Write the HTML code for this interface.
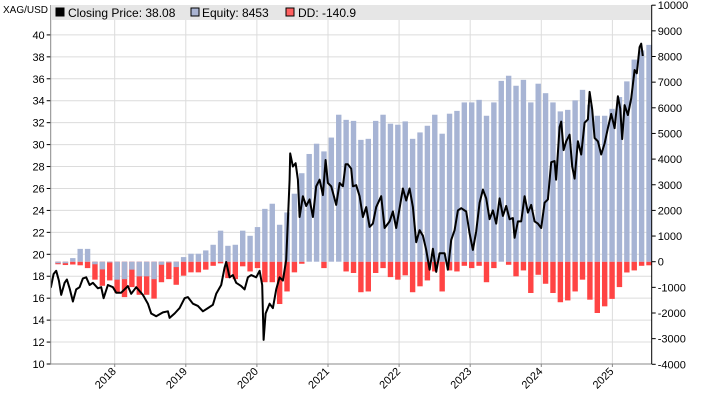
<!DOCTYPE html>
<html><head><meta charset="utf-8"><style>
html,body{margin:0;padding:0;background:#fff;}
svg{display:block;font-family:"Liberation Sans",Arial,sans-serif;}
</style></head><body>
<svg id="chart" width="701" height="405" viewBox="0 0 701 405">
<text x="3" y="13" font-size="10" fill="#000">XAG/USD</text>
<g id="grid"></g>
<g id="bars" clip-path="url(#clip)"></g>
<g id="line" clip-path="url(#clip)"></g>
<g id="axes"></g>
<g>
<rect x="51" y="5" width="600" height="15" fill="#e6e6e6"/>
<rect x="56" y="8" width="8" height="8" fill="#000" stroke="#000"/>
<text x="68" y="17" font-size="12">Closing Price: 38.08</text>
<rect x="191" y="8" width="8" height="8" fill="#aab4d2" stroke="#000"/>
<text x="202" y="17" font-size="12">Equity: 8453</text>
<rect x="286" y="8" width="8" height="8" fill="#ff6060" stroke="#000"/>
<text x="298" y="17" font-size="12">DD: -140.9</text>
</g>
<defs><clipPath id="clip"><rect x="51" y="5" width="601" height="359"/></clipPath></defs>
</svg>
<script>
const equity=[-60,-60,140,500,500,-100,-300,-30,-700,-680,-310,-570,-570,-680,-120,-30,-210,180,310,310,440,660,1210,620,660,1210,1010,1350,2060,2260,1440,1920,2650,3450,4200,4600,4300,4840,
5730,5530,5490,4750,4790,5490,5730,5380,5340,5470,4790,5040,5300,5730,4990,5770,5880,6210,6210,6310,5690,6210,7050,7250,6860,7090,6210,6940,6570,6210,5860,5920,6290,6700,6120,5690,5690,5960,6420,7030,7880,8240,8453];
const drawdown=[-100,-130,-110,-140,-250,-700,-940,-730,-1220,-1380,-990,-1290,-1290,-1440,-800,-680,-900,-545,-415,-415,-310,-160,-65,-640,-680,-180,-380,-250,-800,-800,-1650,-1160,-415,-80,0,0,-250,0,
0,-380,-440,-1190,-1160,-440,-250,-600,-700,-530,-1190,-960,-730,-380,-1160,-340,-380,-160,-250,-160,-800,-250,0,-120,-570,-340,-1220,-510,-860,-1220,-1580,-1510,-1160,-700,-1480,-2000,-1740,-1450,-990,-420,-340,-160,-141];
const barStartYear=2017.203;
const barPeriodYears=0.1039;
const priceDates=[2017.014,2017.06,2017.103,2017.141,2017.177,2017.215,2017.248,2017.295,2017.328,2017.366,2017.412,2017.459,2017.506,2017.553,2017.599,2017.647,2017.693,2017.764,2017.81,2017.844,2017.904,2017.975,2018.021,2018.091,2018.186,2018.232,2018.302,2018.397,2018.467,2018.513,2018.584,2018.678,2018.748,2018.772,2018.842,2018.913,2018.983,2019.03,2019.1,2019.17,2019.241,2019.311,2019.381,2019.428,2019.498,2019.546,2019.568,2019.616,2019.662,2019.709,2019.779,2019.827,2019.873,2019.92,2019.99,2020.038,2020.075,2020.094,2020.122,2020.179,2020.225,2020.271,2020.319,2020.366,2020.412,2020.436,2020.46,2020.468,2020.506,2020.544,2020.577,2020.601,2020.647,2020.693,2020.741,2020.788,2020.834,2020.882,2020.928,2020.966,2020.999,2021.045,2021.115,2021.163,2021.21,2021.248,2021.28,2021.327,2021.35,2021.397,2021.444,2021.491,2021.537,2021.585,2021.631,2021.678,2021.748,2021.796,2021.866,2021.913,2021.959,2022.007,2022.053,2022.1,2022.148,2022.194,2022.241,2022.288,2022.335,2022.381,2022.429,2022.475,2022.522,2022.57,2022.64,2022.686,2022.733,2022.781,2022.827,2022.874,2022.944,2022.992,2023.038,2023.084,2023.132,2023.179,2023.225,2023.273,2023.319,2023.366,2023.414,2023.46,2023.506,2023.554,2023.601,2023.624,2023.671,2023.717,2023.765,2023.811,2023.858,2023.906,2023.952,2023.999,2024.046,2024.093,2024.139,2024.187,2024.209,2024.257,2024.28,2024.314,2024.35,2024.398,2024.435,2024.468,2024.515,2024.561,2024.609,2024.655,2024.679,2024.716,2024.75,2024.796,2024.842,2024.89,2024.937,2024.983,2025.031,2025.077,2025.11,2025.138,2025.172,2025.218,2025.265,2025.312,2025.344,2025.383,2025.405,2025.428];
const priceValues=[17.96,18.4,17.0,18.2,18.5,17.6,16.3,17.4,17.7,16.9,15.7,16.8,17.0,17.8,17.9,17.2,17.4,16.9,17.0,16.0,17.2,17.0,16.5,16.5,17.1,16.4,17.0,16.3,15.5,14.6,14.35,14.7,14.8,14.2,14.6,15.1,16.0,16.1,15.5,15.3,14.8,15.1,15.4,16.4,17.2,18.8,19.3,17.9,18.1,17.4,17.1,16.8,17.9,18.1,17.9,18.5,17.2,12.2,14.6,15.5,15.1,16.8,17.9,17.6,19.5,23.1,26.8,29.2,28.0,28.3,26.8,23.4,25.3,24.4,25.0,23.4,26.2,26.8,25.4,28.6,26.5,26.2,24.5,26.5,26.2,28.2,28.2,27.8,26.2,26.3,25.3,23.4,24.3,22.5,22.8,24.3,25.3,22.4,23.0,23.9,22.4,24.2,26.0,24.9,26.0,24.3,21.1,22.2,21.7,20.4,18.6,20.5,18.4,20.1,20.1,18.6,21.3,22.2,24.0,24.2,23.9,21.9,20.4,22.1,24.7,25.9,25.1,23.2,24.0,22.8,25.1,23.5,24.4,23.2,23.3,21.5,23.0,23.0,25.3,23.8,24.5,23.0,22.8,22.4,24.7,25.0,28.4,28.5,26.8,31.6,32.1,29.5,30.3,30.9,28.0,26.9,30.3,29.1,32.0,32.3,34.8,33.2,30.6,30.3,29.1,30.1,31.5,32.8,31.5,34.4,33.3,30.5,33.6,32.7,34.2,36.8,36.5,38.9,39.2,38.08];
const leftTicks=[10,12,14,16,18,20,22,24,26,28,30,32,34,36,38,40];
const rightTicks=[-4000,-3000,-2000,-1000,0,1000,2000,3000,4000,5000,6000,7000,8000,9000,10000];
const yearTicks=[2018,2019,2020,2021,2022,2023,2024,2025];

const NS='http://www.w3.org/2000/svg';
const L=50.7,R=651.7,B=364;
function xOf(t){return L+(t-2017.1)*71.1;}
function yP(v){return B-(v-10)*10.97;}
function yE(v){return 261.7-v*0.02565;}
function mk(tag,attrs,parent){const e=document.createElementNS(NS,tag);for(const k in attrs)e.setAttribute(k,attrs[k]);parent.appendChild(e);return e;}
const grid=document.getElementById('grid'),bars=document.getElementById('bars'),line=document.getElementById('line'),axes=document.getElementById('axes');

leftTicks.forEach(v=>{
  const y=yP(v);
  const g=mk('line',{x1:L,x2:R,y1:y,y2:y,stroke:'#dcdcdc','stroke-width':1},grid);
  
  
  const t=mk('line',{x1:L-4,x2:L,y1:y,y2:y,stroke:'#000'},axes);
  
  
  const tx=mk('text',{x:L-6,y:y+4,'font-size':11,'text-anchor':'end'},axes);
  tx.textContent=v;
  
  
});
yearTicks.forEach(yr=>{
  const x=xOf(yr);
  const g=mk('line',{x1:x,x2:x,y1:5,y2:B,stroke:'#dcdcdc','stroke-width':1},grid);
  
  
  const t=mk('line',{x1:x,x2:x,y1:B,y2:B+3,stroke:'#888'},axes);
  
  
  const tx=mk('text',{x:x+2,y:B+8,'font-size':11,'text-anchor':'end',transform:'rotate(-45 '+(x+2)+' '+(B+8)+')'},axes);
  tx.textContent=yr;
  
  
});
rightTicks.forEach(v=>{
  const y=yE(v);
  const t=mk('line',{x1:R,x2:R+4,y1:y,y2:y,stroke:'#000'},axes);
  
  
  const tx=mk('text',{x:R+6,y:y+4,'font-size':11},axes);
  tx.textContent=v;
  
  
});
drawdown.forEach((v,i)=>{
  const x=xOf(barStartYear+i*barPeriodYears);
  const y0=yE(0),y1=yE(v);
  const r=mk('rect',{x:x-2.7,y:Math.min(y0,y1),width:5.4,height:Math.abs(y1-y0),fill:'#ff4444'},bars);
  
  
});
equity.forEach((v,i)=>{
  const x=xOf(barStartYear+i*barPeriodYears);
  const y0=yE(0),y1=yE(v);
  const r=mk('rect',{x:x-2.7,y:Math.min(y0,y1),width:5.4,height:Math.abs(y1-y0),fill:'#a7b4d4'},bars);
  
  
});
const pts=priceDates.map((d,i)=>xOf(d).toFixed(1)+','+yP(priceValues[i]).toFixed(1)).join(' ');
const pl=mk('polyline',{points:pts,fill:'none',stroke:'#000','stroke-width':2,'stroke-linejoin':'round'},line);


const la=mk('line',{x1:L,x2:L,y1:5,y2:B,stroke:'#888'},axes);


const ba=mk('line',{x1:L,x2:R,y1:B,y2:B,stroke:'#888'},axes);


const ra=mk('line',{x1:R,x2:R,y1:5,y2:B,stroke:'#000'},axes);


</script>
</body></html>
